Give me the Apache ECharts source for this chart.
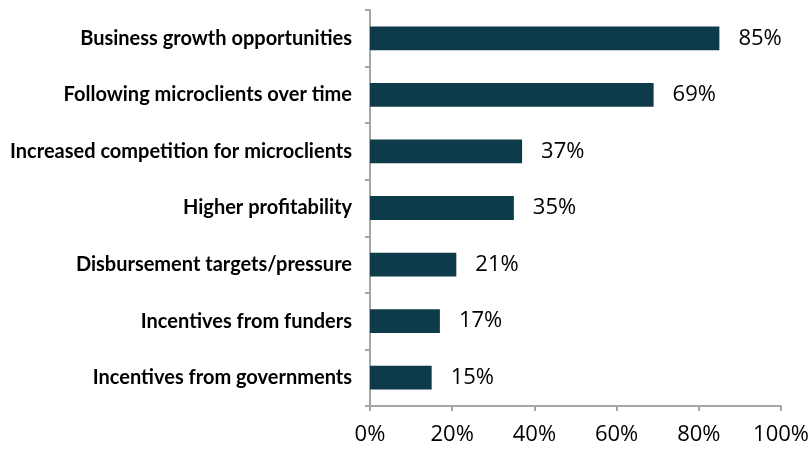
<!DOCTYPE html>
<html><head><meta charset="utf-8">
<script src="https://cdn.jsdelivr.net/npm/echarts@6/dist/echarts.min.js"></script>
<style>html,body{margin:0;padding:0;background:#fff}#c{width:812px;height:450px}</style>
</head><body><div id="c"></div>
<script>
const categories = ["Business growth opportunities","Following microclients over time","Increased competition for microclients","Higher profitability","Disbursement targets/pressure","Incentives from funders","Incentives from governments"];
const values = [85, 69, 37, 35, 21, 17, 15];
const xTicks = [0, 20, 40, 60, 80, 100];

const chart = echarts.init(document.getElementById('c'), null, {renderer:'canvas'});
chart.setOption({
  animation:false,
  grid:{left:370, top:10, right:29, bottom:44},
  xAxis:{type:'value', min:0, max:100, interval:20,
    axisLine:{show:true, lineStyle:{color:'#a6a6a6', width:2}},
    axisTick:{show:true, length:5, lineStyle:{color:'#a6a6a6', width:2}},
    splitLine:{show:false},
    axisLabel:{formatter:v=>v+'%', fontFamily:'Open Sans', fontSize:22, color:'#000', margin:18}
  },
  yAxis:{type:'category', data:categories.slice().reverse(),
    axisLine:{show:true, lineStyle:{color:'#a6a6a6', width:2}},
    axisTick:{show:true, length:5, lineStyle:{color:'#a6a6a6', width:2}},
    axisLabel:{fontFamily:'Lato', fontWeight:'bold', fontSize:20, color:'#000', margin:18, padding:[5,0,0,0]}
  },
  series:[{type:'bar', data:values.slice().reverse(), barCategoryGap:'58%',
    itemStyle:{color:'#0e3b4a'},
    label:{show:true, position:'right', distance:19, formatter:p=>p.value+'%', fontFamily:'Open Sans', fontSize:22, color:'#000', padding:[5,0,0,0]}
  }]
});
</script></body></html>
